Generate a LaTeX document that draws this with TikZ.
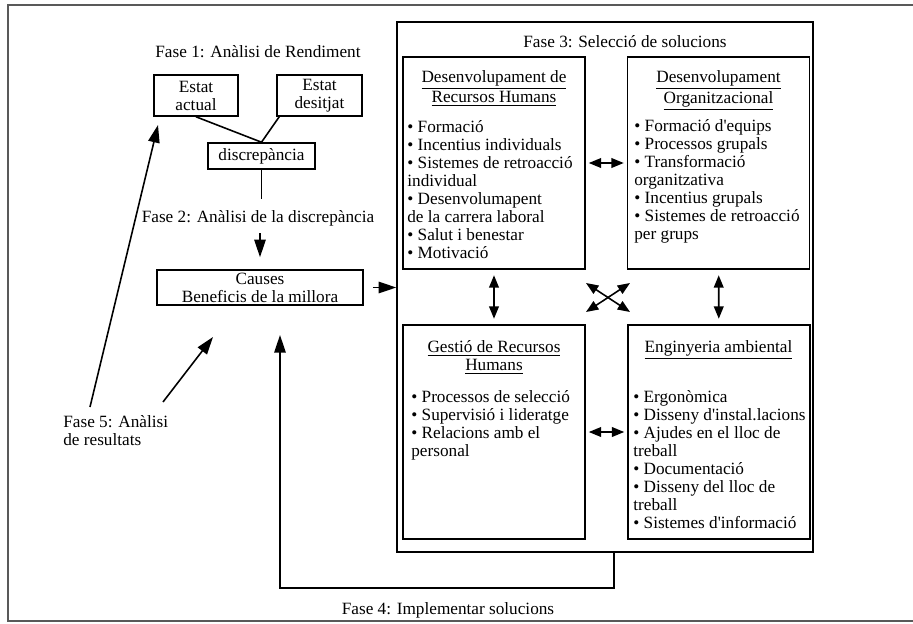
\documentclass[tikz,border=0pt]{standalone}
\usepackage{fontspec}
\setmainfont{Liberation Serif}
\usetikzlibrary{arrows.meta,positioning}

\begin{document}
\begin{tikzpicture}[
  x=0.02cm, y=-0.02cm,
  font=\fontsize{9.8}{10.24}\selectfont,
  every node/.style={inner sep=0pt},
  box/.style={draw, line width=0.9pt},
  panel/.style={draw, line width=0.9pt, minimum width=3.64cm, minimum height=4.24cm},
  head/.style={anchor=north, align=center},
  items/.style={anchor=north west, align=left},
  arr/.style={line width=0.9pt, -{Triangle[length=10pt,width=6.5pt]}},
  dbl/.style={line width=0.9pt, {Triangle[length=7pt,width=5.5pt]}-{Triangle[length=7pt,width=5.5pt]}}
]
  \useasboundingbox (0,0) rectangle (913,623);
  % frame
  \draw[black!65, line width=0.9pt] (913,5) -- (8,5) -- (8,621) -- (913,621);

  % Fase 1
  \node (f1) at (258,52) {Fase 1: Anàlisi de Rendiment};
  \node[box, minimum width=1.68cm, minimum height=0.82cm, align=center] (actual) at (196,95.5) {Estat\\actual};
  \node[box, minimum width=1.7cm, minimum height=0.82cm, align=center] (desitjat) at (319.5,95.5) {Estat\\desitjat};
  \node[box, minimum width=2.14cm, minimum height=0.52cm] (disc) at (261.5,156) {discrepància};
  \draw[line width=0.9pt] (actual.south) -- (disc.north);
  \draw[line width=0.9pt] ([xshift=0.06cm]desitjat.south west) -- (disc.north);

  % Fase 2
  \node (f2) at (258,218) {Fase 2: Anàlisi de la discrepància};
  \node[box, minimum width=4.12cm, minimum height=0.7cm, align=center] (causes) at (260,287.5) {Causes\\Beneficis de la millora};
  \draw[line width=0.6pt] (disc.south) -- ++(0,29);
  \draw[arr, shorten <=0.14cm, shorten >=0.24cm] (f2.south -| causes.north) -- (causes.north);

  % Fase 3
  \node[box, minimum width=8.32cm, minimum height=10.6cm] (f3) at (605,287) {};
  \node (f3lbl) at (625,42) {Fase 3: Selecció de solucions};
  \node[panel] (drh) at (494,163) {};
  \node[panel] (dor) at (718.5,163) {};
  \node[panel, minimum height=4.28cm] (grh) at (494,432) {};
  \node[panel, minimum height=4.28cm] (eng) at (719,432) {};

  \node[head] (drhT) at (494,70) {\underline{Desenvolupament de}\\\underline{Recursos Humans}};
  \node[items] (drhL) at (407,120) {• Formació\\• Incentius individuals\\• Sistemes de retroacció\\individual\\• Desenvolumapent\\de la carrera laboral\\• Salut i benestar\\• Motivació};
  \node[head] (dorT) at (718.5,70) {\underline{Desenvolupament}\\\underline{Organitzacional}};
  \node[items] (dorL) at (634,119) {• Formació d\textquotesingle equips\\• Processos grupals\\• Transformació\\organitzativa\\• Incentius grupals\\• Sistemes de retroacció\\per grups};
  \node[head] (grhT) at (494,340) {\underline{Gestió de Recursos}\\\underline{Humans}};
  \node[items] (grhL) at (411,390) {• Processos de selecció\\• Supervisió i lideratge\\• Relacions amb el\\personal};
  \node[head] (engT) at (718.5,340) {\underline{Enginyeria ambiental}};
  \node[items] (engL) at (633,390) {• Ergonòmica\\• Disseny d\textquotesingle instal.lacions\\• Ajudes en el lloc de\\treball\\• Documentació\\• Disseny del lloc de\\treball\\• Sistemes d\textquotesingle informació};

  % arrows inside Fase 3
  \draw[arr, shorten <=0.18cm] (causes.east) -- (causes.east -| f3.west);
  \draw[dbl, shorten <=0.06cm, shorten >=0.06cm] (drh) -- (dor);
  \draw[dbl, shorten <=0.06cm, shorten >=0.06cm] (grh) -- (eng);
  \draw[dbl, shorten <=0.11cm, shorten >=0.11cm] (drh) -- (grh);
  \draw[dbl, shorten <=0.11cm, shorten >=0.11cm] (dor) -- (eng);
  \coordinate (xa) at (586,283);
  \coordinate (xb) at (630,312);
  \coordinate (xc) at (630,283);
  \coordinate (xd) at (586,312);
  \draw[dbl] (xa) -- (xb);
  \draw[dbl] (xc) -- (xd);

  % Fase 4
  \coordinate (f4a) at (614,588);
  \coordinate (f4b) at (280,335);
  \draw[arr] (f4a |- f3.south) -- (f4a) -| (f4b);
  \node (f4) at (448,610) {Fase 4: Implementar solucions};

  % Fase 5
  \node[anchor=north west, align=left] (f5) at (63,415) {Fase 5: Anàlisi\\de resultats};
  \coordinate (f5a) at (158,125);
  \coordinate (f5b) at (213,337);
  \draw[arr] ([xshift=0.54cm,yshift=0.16cm]f5.north west) -- (f5a);
  \draw[arr] ([xshift=2cm,yshift=0.26cm]f5.north west) -- (f5b);
\end{tikzpicture}
\end{document}
